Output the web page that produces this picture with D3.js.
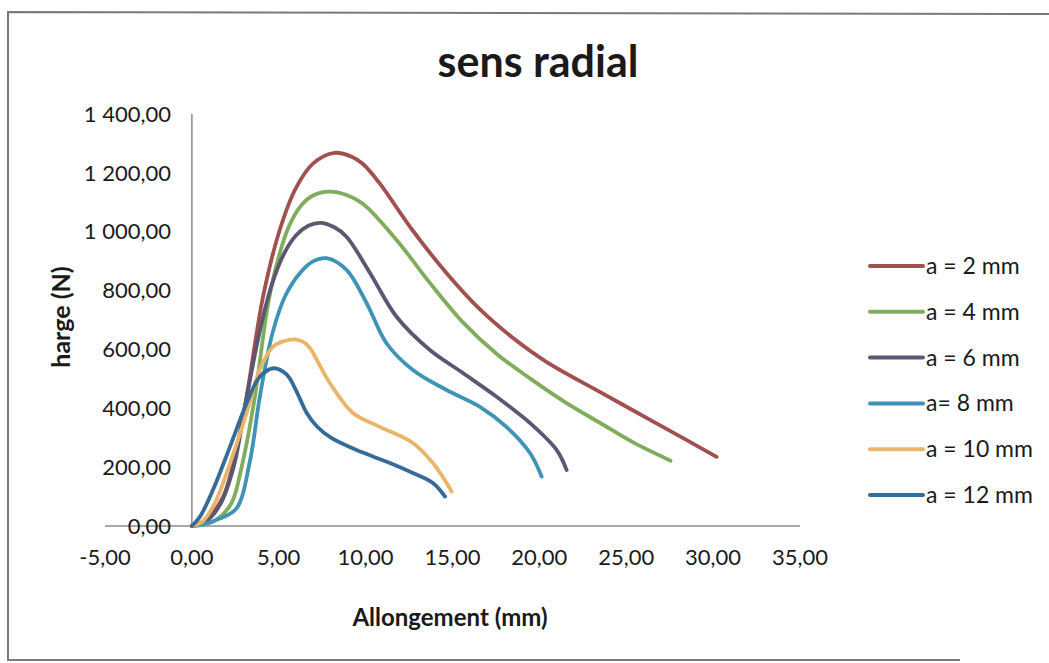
<!DOCTYPE html>
<html>
<head>
<meta charset="utf-8">
<script src="https://cdn.jsdelivr.net/npm/d3@7"></script>
<style>
  html, body { margin: 0; padding: 0; background: #fff; }
  svg { display: block; }
  text { font-family: Lato, "Open Sans", sans-serif; fill: #1a1a1a; }
</style>
</head>
<body>
<svg id="chart" width="1049" height="663"></svg>
<script>
// Load (N) versus elongation (mm) for each notch depth a
const a2  = [[0,0],[0.8,20],[1.8,100],[2.6,270],[3.15,440],[4.1,780],[5.05,1005],[6.0,1150],[7.0,1233],[8.2,1268],[9.2,1255],[9.85,1230],[10.8,1165],[12.7,1005],[14.65,860],[16.6,735],[18.5,638],[20.4,558],[23.5,455],[26.4,360],[30.2,235]];
const a4  = [[0,0],[0.9,8],[1.6,30],[2.3,80],[2.9,210],[3.6,430],[4.4,760],[5.0,915],[5.6,1020],[6.3,1090],[7.0,1124],[7.9,1136],[8.9,1125],[9.84,1095],[11.78,972],[13.7,826],[15.6,692],[17.6,582],[19.5,500],[21.45,422],[23.5,350],[25.4,284],[27.55,222]];
const a6  = [[0,0],[0.8,15],[1.6,70],[2.4,200],[3.1,420],[3.9,660],[4.6,820],[5.3,925],[6.0,988],[6.7,1020],[7.4,1030],[8.2,1015],[8.9,983],[10.25,860],[11.78,711],[13.7,598],[15.6,520],[17.54,439],[19.46,350],[21.0,258],[21.57,190]];
const a8  = [[0,0],[0.8,8],[1.6,25],[2.57,60],[3.34,220],[3.91,439],[4.66,660],[5.4,785],[6.3,865],[7.0,900],[7.75,910],[8.9,870],[10.06,757],[11.2,621],[12.72,530],[14.66,462],[16.58,405],[18.1,337],[19.46,248],[20.13,168]];
const a10 = [[0,0],[0.6,15],[1.3,75],[2.2,214],[3.15,384],[3.9,530],[4.66,609],[5.3,628],[5.93,634],[6.5,622],[6.85,600],[7.3,552],[7.94,486],[9.27,384],[10.82,337],[12.72,282],[13.87,214],[14.66,146],[14.95,117]];
const a12 = [[0,0],[0.46,31],[1.21,122],[2.19,269],[3.15,417],[3.91,507],[4.7,536],[5.45,515],[6.0,460],[6.6,385],[7.2,338],[8.0,300],[9.48,258],[11.4,214],[12.72,180],[13.87,146],[14.57,100]];

const seriesNames  = ["a = 2 mm", "a = 4 mm", "a = 6 mm", "a= 8 mm", "a = 10 mm", "a = 12 mm"];
const seriesData   = [a2, a4, a6, a8, a10, a12];
const seriesColors = ["#a24f4f", "#80ad5b", "#5b5770", "#3f94b6", "#eab46a", "#346b98"];

const xTicks = [-5, 0, 5, 10, 15, 20, 25, 30, 35];
const yTicks = [0, 200, 400, 600, 800, 1000, 1200, 1400];

const chartTitle = "sens radial";
const xTitle = "Allongement (mm)";
const yTitle = "harge (N)";

const svg = d3.select("#chart");

// French number format: space for thousands, comma for decimals
const fr = d3.formatLocale({ decimal: ",", thousands: "\u00a0", grouping: [3], currency: ["", " €"], minus: "-" });
const fmt = fr.format(",.2f");

const x = d3.scaleLinear().domain([-5, 35]).range([105, 800]);
const y = d3.scaleLinear().domain([0, 1400]).range([526, 114]);

// chart frame
svg.append("path")
  .attr("d", "M1049,14 L8,12 L8,660 L960,660")
  .attr("fill", "none")
  .attr("stroke", "#7a7a7a")
  .attr("stroke-width", 2);

// title
svg.append("text")
  .attr("x", 538).attr("y", 77)
  .attr("text-anchor", "middle")
  .attr("font-size", 43).attr("font-weight", 700)
  .text(chartTitle);

// horizontal axis line at y = 0
svg.append("line")
  .attr("x1", x(-5)).attr("x2", x(35))
  .attr("y1", y(0)).attr("y2", y(0))
  .attr("stroke", "#8a8a8a").attr("stroke-width", 1.5);

// vertical axis line at x = 0
svg.append("line")
  .attr("x1", x(0)).attr("x2", x(0))
  .attr("y1", y(0)).attr("y2", y(1400))
  .attr("stroke", "#8a8a8a").attr("stroke-width", 1.5);

// y tick labels
svg.append("g").selectAll("text").data(yTicks).join("text")
  .attr("x", 171).attr("y", d => y(d))
  .attr("dy", "0.35em")
  .attr("text-anchor", "end")
  .attr("font-size", 22)
  .text(d => fmt(d));

// x tick labels
svg.append("g").selectAll("text").data(xTicks).join("text")
  .attr("x", d => x(d)).attr("y", 557)
  .attr("dy", "0.35em")
  .attr("text-anchor", "middle")
  .attr("font-size", 22)
  .text(d => fmt(d));

// axis titles
svg.append("text")
  .attr("x", 450).attr("y", 618).attr("dy", "0.35em")
  .attr("text-anchor", "middle")
  .attr("font-size", 24).attr("font-weight", 700)
  .text(xTitle);

svg.append("text")
  .attr("transform", "translate(61,317) rotate(-90)")
  .attr("dy", "0.35em")
  .attr("text-anchor", "middle")
  .attr("font-size", 25).attr("font-weight", 700)
  .text(yTitle);

// curves
const line = d3.line()
  .x(d => x(d[0])).y(d => y(d[1]))
  .curve(d3.curveCatmullRom.alpha(0.5));

svg.append("g").selectAll("path").data(seriesData).join("path")
  .attr("d", d => line(d))
  .attr("fill", "none")
  .attr("stroke", (d, i) => seriesColors[i])
  .attr("stroke-width", 3.8)
  .attr("stroke-linecap", "round")
  .attr("stroke-linejoin", "round");

// legend
const legend = svg.append("g").selectAll("g").data(seriesNames).join("g")
  .attr("transform", (d, i) => `translate(870,${266 + i * 45.8})`);

legend.append("line")
  .attr("x1", 0).attr("x2", 53)
  .attr("stroke", (d, i) => seriesColors[i])
  .attr("stroke-width", 4)
  .attr("stroke-linecap", "round");

legend.append("text")
  .attr("x", 56).attr("dy", "0.35em")
  .attr("font-size", 23)
  .text(d => d);
</script>
</body>
</html>
